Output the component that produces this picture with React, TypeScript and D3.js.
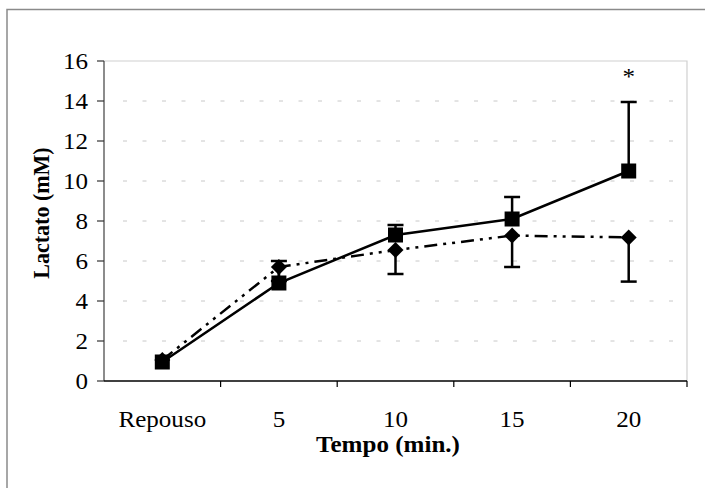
import React, { useRef, useEffect } from "react";
import * as d3 from "d3";

// chart values
const categories = ["Repouso", "5", "10", "15", "20"];
const squareValues = [0.95, 4.9, 7.3, 8.1, 10.5];
const squareUpper = [0.95, 6.0, 7.8, 9.2, 13.95];
const diamondValues = [1.05, 5.7, 6.55, 7.27, 7.18];
const diamondLower = [1.05, 5.0, 5.35, 5.7, 4.97];
const yTicks = [0, 2, 4, 6, 8, 10, 12, 14, 16];
const starIndex = 4;

const W = 705;
const H = 488;
const FONT = "Liberation Serif, Times New Roman, Times, serif";
const FS = 23;
const SX = 1.09; // source picture is a bit stretched sideways

const App = () => {
  const svgRef = useRef<SVGSVGElement>(null);

  useEffect(() => {
    const svg = d3.select(svgRef.current);
    svg.selectAll("*").remove();

    const left = 104, right = 687, top = 61, bottom = 381;

    const x = d3.scaleBand<string>().domain(categories).range([left, right]).padding(0);
    const y = d3.scaleLinear().domain([0, 16]).range([bottom, top]);
    const cx = (i: number) => (x(categories[i]) as number) + x.bandwidth() / 2;

    // outer frame
    svg.append("rect")
      .attr("x", 7).attr("y", 9.5)
      .attr("width", 720).attr("height", 500)
      .attr("fill", "white")
      .attr("stroke", "#8a8a8a")
      .attr("stroke-width", 1.5);

    // grid
    svg.append("g")
      .selectAll("line")
      .data(yTicks.filter(t => t > 0 && t < 16))
      .join("line")
      .attr("x1", left + 19).attr("x2", right - 12)
      .attr("y1", d => y(d)).attr("y2", d => y(d))
      .attr("stroke", "#c8c8c8")
      .attr("stroke-width", 1)
      .attr("stroke-dasharray", "4 15.5");

    // plot border top/right
    svg.append("path")
      .attr("d", `M${left},${y(16)}H${right}V${bottom}`)
      .attr("fill", "none")
      .attr("stroke", "#d0d0d0")
      .attr("stroke-width", 1.2);

    // y axis
    svg.append("line")
      .attr("x1", left).attr("x2", left)
      .attr("y1", y(16)).attr("y2", bottom)
      .attr("stroke", "#666").attr("stroke-width", 1.5);
    svg.append("g")
      .selectAll("line")
      .data(yTicks)
      .join("line")
      .attr("x1", left - 7).attr("x2", left)
      .attr("y1", d => y(d)).attr("y2", d => y(d))
      .attr("stroke", "#333").attr("stroke-width", 1.2);
    svg.append("g")
      .selectAll("text")
      .data(yTicks)
      .join("text")
      .attr("transform", d => `translate(88,${y(d) + 8}) scale(${SX},1)`)
      .attr("text-anchor", "end")
      .attr("font-family", FONT)
      .attr("font-size", FS)
      .text(d => d);

    // x axis
    svg.append("line")
      .attr("x1", left).attr("x2", right)
      .attr("y1", bottom).attr("y2", bottom)
      .attr("stroke", "#000").attr("stroke-width", 1.5);
    const bounds = categories.map(c => x(c) as number).concat([x.range()[1]]);
    svg.append("g")
      .selectAll("line")
      .data(bounds.slice(1))
      .join("line")
      .attr("x1", d => d).attr("x2", d => d)
      .attr("y1", bottom).attr("y2", bottom + 6)
      .attr("stroke", "#000").attr("stroke-width", 1.2);
    svg.append("g")
      .selectAll("text")
      .data(categories)
      .join("text")
      .attr("transform", (d, i) => `translate(${cx(i)},427) scale(${SX},1)`)
      .attr("text-anchor", "middle")
      .attr("font-family", FONT)
      .attr("font-size", FS)
      .text(d => d);

    // axis titles
    svg.append("text")
      .attr("transform", `translate(388,452) scale(${SX},1)`)
      .attr("text-anchor", "middle")
      .attr("font-family", FONT)
      .attr("font-size", FS)
      .attr("font-weight", "bold")
      .text("Tempo (min.)");
    svg.append("text")
      .attr("transform", `translate(49,213) scale(${SX},1) rotate(-90)`)
      .attr("text-anchor", "middle")
      .attr("font-family", FONT)
      .attr("font-size", 22)
      .attr("font-weight", "bold")
      .text("Lactato (mM)");

    const cap = 8;
    // error bars: squares up, diamonds down
    const errG = svg.append("g").attr("stroke", "#000").attr("stroke-width", 2.5);
    squareValues.forEach((v, i) => {
      if (squareUpper[i] <= v) return;
      errG.append("line").attr("x1", cx(i)).attr("x2", cx(i)).attr("y1", y(v)).attr("y2", y(squareUpper[i]));
      errG.append("line").attr("x1", cx(i) - cap).attr("x2", cx(i) + cap).attr("y1", y(squareUpper[i])).attr("y2", y(squareUpper[i]));
    });
    diamondValues.forEach((v, i) => {
      if (diamondLower[i] >= v) return;
      errG.append("line").attr("x1", cx(i)).attr("x2", cx(i)).attr("y1", y(v)).attr("y2", y(diamondLower[i]));
      errG.append("line").attr("x1", cx(i) - cap).attr("x2", cx(i) + cap).attr("y1", y(diamondLower[i])).attr("y2", y(diamondLower[i]));
    });

    const line = d3.line<number>().x((d, i) => cx(i)).y(d => y(d));

    svg.append("path")
      .attr("d", line(diamondValues))
      .attr("fill", "none")
      .attr("stroke", "#000")
      .attr("stroke-width", 2.5)
      .attr("stroke-dasharray", "13 6 3 6 3 6");

    svg.append("path")
      .attr("d", line(squareValues))
      .attr("fill", "none")
      .attr("stroke", "#000")
      .attr("stroke-width", 2.5);

    const r = 8;
    svg.append("g")
      .selectAll("path")
      .data(diamondValues)
      .join("path")
      .attr("d", `M0,${-r}L${r},0L0,${r}L${-r},0Z`)
      .attr("transform", (d, i) => `translate(${cx(i)},${y(d)})`)
      .attr("fill", "#000");

    svg.append("g")
      .selectAll("rect")
      .data(squareValues)
      .join("rect")
      .attr("x", (d, i) => cx(i) - 7.5)
      .attr("y", d => y(d) - 7.5)
      .attr("width", 15).attr("height", 15)
      .attr("fill", "#000");

    // significance mark
    svg.append("text")
      .attr("transform", `translate(${cx(starIndex)},84) scale(${SX},1)`)
      .attr("text-anchor", "middle")
      .attr("font-family", FONT)
      .attr("font-size", FS)
      .text("*");
  }, []);

  return (
    <svg
      ref={svgRef}
      width={W}
      height={H}
      style={{ position: "absolute", left: 0, top: 0, background: "white" }}
    />
  );
};

export default App;
